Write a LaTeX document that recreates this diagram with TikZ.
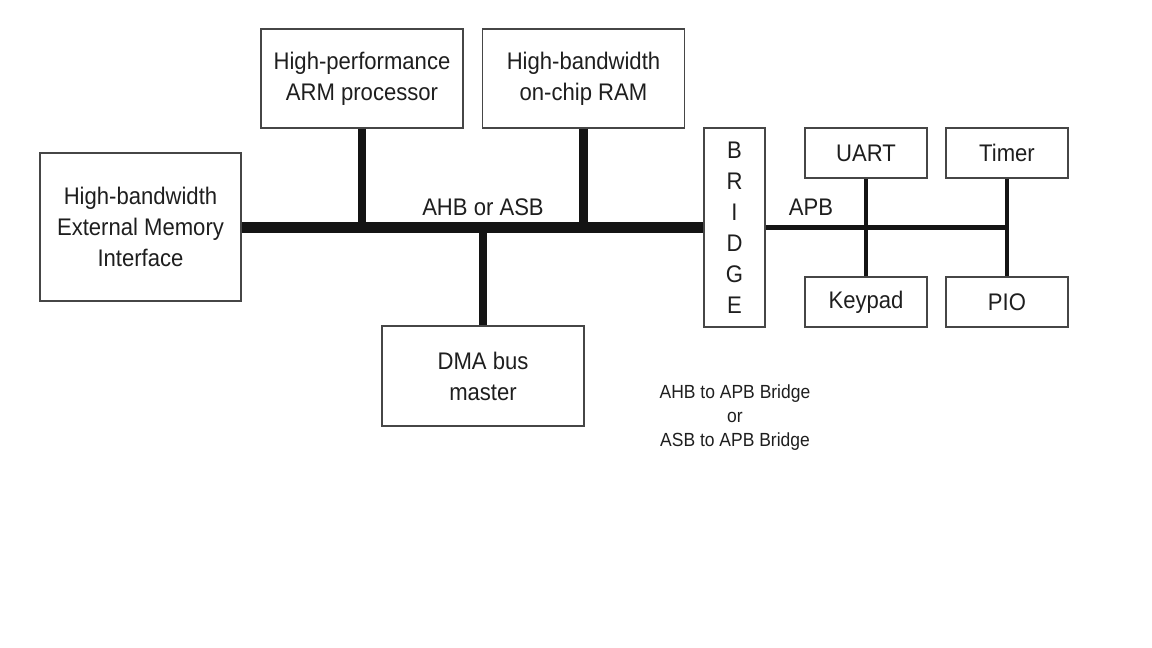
\documentclass[tikz,border=0pt]{standalone}
\usepackage{fontspec}
\setmainfont{Liberation Sans}[FakeStretch = 0.92]
\usepackage{tikz}
\definecolor{boxgray}{RGB}{70, 70, 70}
\definecolor{busblack}{RGB}{20, 20, 20}
\definecolor{txtgray}{RGB}{30, 30, 30}

\begin{document}
\begin{tikzpicture}[x = 0.5pt, y = -0.5pt,
		block/.style = {draw = boxgray, line width = 0.7pt, inner sep = 0pt, align = center,
			text = txtgray, font = \fontsize{12}{15.5}\selectfont},
		label/.style = {inner sep = 0pt, text = txtgray, font = \fontsize{12}{15.5}\selectfont},
		mainbus/.style = {draw = busblack, line width = 5.5pt},
		stem/.style = {draw = busblack, line width = 4.2pt},
		pbus/.style = {draw = busblack, line width = 2.6pt},
		pstem/.style = {draw = busblack, line width = 2.1pt}]
			\useasboundingbox (0,0) rectangle (1152,648);
			\node (ext) at (140.5,227) [block, minimum width = 100.5pt, minimum height = 74pt] {High-bandwidth\\External Memory\\Interface};
			\node (arm) at (362,78.5) [block, minimum width = 101pt, minimum height = 49.5pt] {High-performance\\ARM processor};
			\node (ram) at (583.5,78.5) [block, minimum width = 101pt, minimum height = 49.5pt] {High-bandwidth\\on-chip RAM};
			\node (dma) at (483,376) [block, minimum width = 101pt, minimum height = 50pt] {DMA bus\\master};
			\node (bridge) at (734.5,227.5) [block, minimum width = 30.5pt, minimum height = 99.5pt] {B\\R\\I\\D\\G\\E};
			\node (uart) at (866,153) [block, minimum width = 61pt, minimum height = 25pt] {UART};
			\node (timer) at (1007,153) [block, minimum width = 61pt, minimum height = 25pt] {Timer};
			\node (keypad) at (866,302) [block, minimum width = 61pt, minimum height = 25pt] {Keypad};
			\node (pio) at (1007,302) [block, minimum width = 61pt, minimum height = 25pt] {PIO};
			\node (ahb) at (483,207) [label] {AHB or ASB};
			\node (apb) at (811,207) [label] {APB};
			\node (note) at (735,418) [label, align = center, font = \fontsize{9.5}{12}\selectfont] {AHB to APB Bridge\\or\\ASB to APB Bridge};
			\draw [stem] (arm.south) -- (arm.south |- ext.east);
			\draw [stem] (ram.south) -- (ram.south |- ext.east);
			\draw [stem] (dma.north) -- (dma.north |- ext.east);
			\draw [mainbus] (ext.east) -- (ext.east -| bridge.west);
			\draw [pstem] (uart.south) -- (keypad.north);
			\draw [pstem] (timer.south) -- (pio.north);
			\draw [pbus] (bridge.east) -- (timer.south |- bridge.east);
			\end{tikzpicture}
\end{document}
